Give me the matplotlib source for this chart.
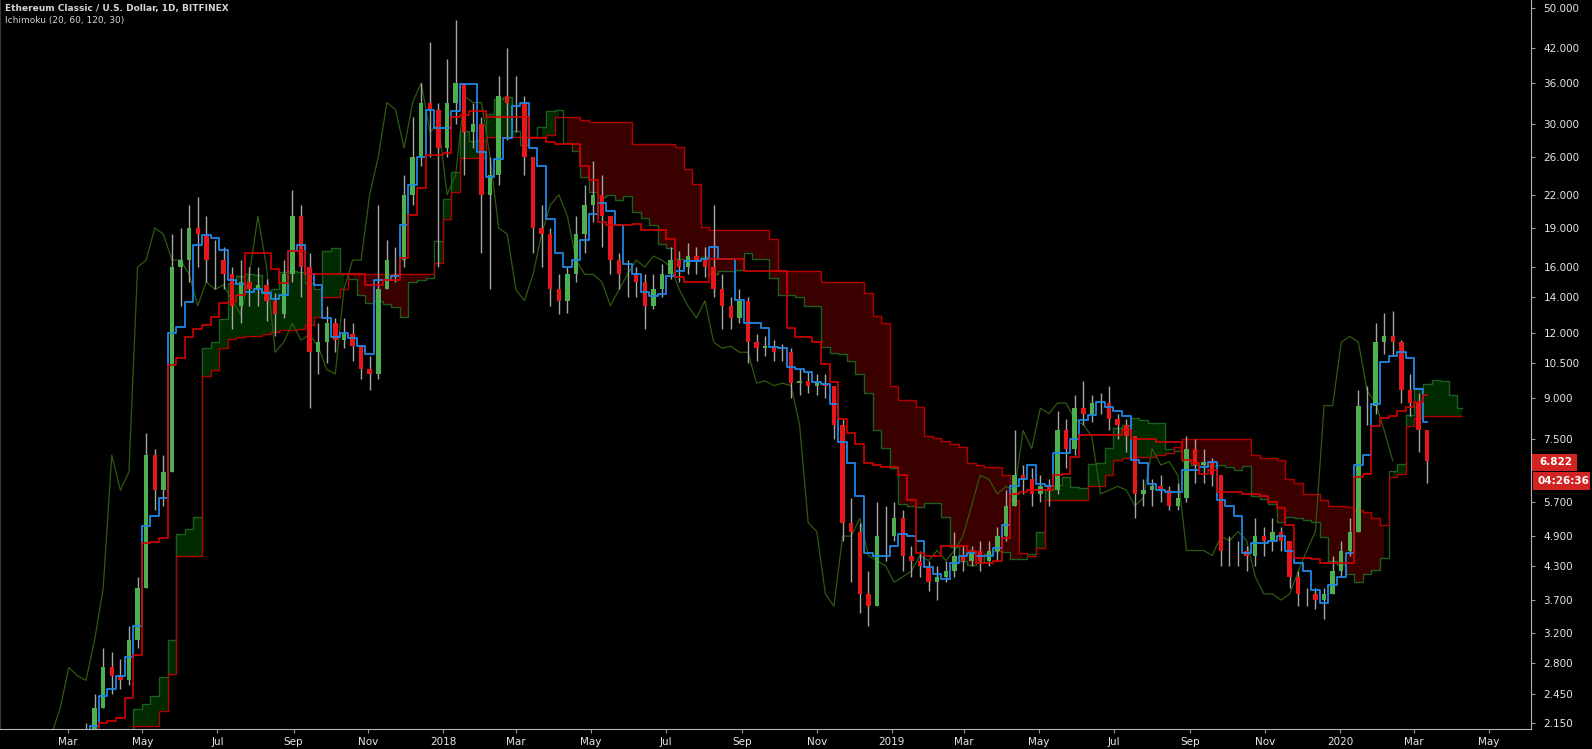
import numpy as np
import pandas as pd
import matplotlib
matplotlib.use('Agg')
import matplotlib.pyplot as plt
import matplotlib.dates as mdates
from matplotlib.patches import Rectangle
from matplotlib.ticker import NullLocator

""" Weekly candles read off the daily ETC/USD chart (Bitfinex) """
weeks = pd.date_range('2017-01-02', periods=167, freq='7D')  # Monday of each week

closes = [1.35, 1.40, 1.45, 1.40, 1.40, 1.45, 1.55, 1.75, 1.90, 1.95,
          2.05, 2.30, 2.75, 2.65, 2.60, 3.10, 3.90, 7.00, 6.00, 6.50,
          16.0, 16.5, 19.0, 18.5, 16.5, 16.5, 15.5, 13.5, 15.0, 14.5,
          14.8, 13.8, 13.0, 15.5, 20.0, 16.0, 11.0, 11.5, 12.5, 11.6,
          11.9, 11.3, 10.2, 10.0, 14.5, 16.5, 16.5, 22.0, 26.0, 33.0,
          32.0, 27.0, 33.0, 36.0, 29.0, 30.0, 22.0, 24.0, 34.0, 33.0,
          33.0, 26.0, 19.0, 18.5, 14.5, 13.8, 15.5, 18.5, 21.0, 22.0,
          20.0, 16.5, 15.5, 15.5, 15.0, 13.5, 14.5, 15.5, 16.5, 16.0,
          16.8, 16.5, 16.0, 14.5, 13.5, 12.8, 13.8, 11.5, 11.2, 11.3,
          11.0, 11.0, 9.6, 9.7, 9.5, 9.6, 9.5, 8.0, 5.2, 5.0,
          3.8, 3.6, 4.9, 4.9, 5.3, 4.5, 4.4, 4.3, 4.0, 4.1,
          4.2, 4.5, 4.4, 4.6, 4.4, 4.6, 4.9, 5.6, 6.4, 6.3,
          5.9, 6.1, 6.0, 7.8, 7.2, 8.6, 8.4, 8.8, 8.8, 8.2,
          8.0, 7.6, 5.9, 6.0, 6.1, 6.0, 5.6, 5.8, 7.2, 6.7,
          6.8, 6.4, 4.6, 4.6, 4.6, 4.5, 4.9, 4.8, 5.0, 4.8,
          4.1, 3.8, 3.8, 3.7, 3.8, 4.2, 4.6, 5.0, 8.7, 8.7,
          11.5, 11.8, 11.5, 9.3, 8.8, 7.8, 6.822]

highs = [1.45, 1.50, 1.55, 1.50, 1.50, 1.55, 1.65, 1.85, 2.00, 2.05,
         2.15, 2.45, 3.00, 2.95, 2.85, 3.30, 4.10, 7.70, 7.20, 7.00,
         18.5, 19.0, 21.0, 21.8, 20.0, 18.0, 17.5, 16.0, 16.5, 16.0,
         16.0, 15.2, 14.3, 16.5, 22.5, 21.0, 17.0, 12.5, 13.5, 12.8,
         12.8, 12.5, 11.3, 10.8, 21.0, 18.0, 17.5, 24.0, 31.0, 36.0,
         43.0, 33.0, 40.0, 47.5, 36.0, 33.0, 31.0, 26.0, 37.0, 42.0,
         37.0, 34.0, 26.0, 21.0, 19.0, 15.5, 16.0, 20.0, 23.0, 25.5,
         24.0, 18.5, 17.0, 16.5, 16.0, 15.5, 15.5, 16.2, 17.5, 17.2,
         17.8, 17.5, 17.5, 21.0, 15.5, 14.0, 14.5, 14.0, 11.9, 11.8,
         11.6, 11.4, 11.2, 10.2, 10.1, 10.0, 10.0, 9.5, 8.2, 5.8,
         5.2, 4.2, 5.7, 5.6, 5.7, 5.5, 4.7, 4.6, 4.4, 4.3,
         4.4, 5.0, 4.7, 4.7, 4.8, 4.8, 5.1, 6.0, 7.8, 6.7,
         6.6, 6.4, 6.3, 8.5, 8.2, 9.1, 9.7, 9.1, 9.2, 9.5,
         8.4, 8.2, 7.0, 6.3, 6.3, 6.4, 6.1, 6.2, 7.6, 7.5,
         7.2, 6.9, 6.4, 4.9, 4.8, 4.7, 5.3, 5.1, 5.3, 5.1,
         4.8, 4.2, 3.9, 3.9, 3.9, 4.5, 4.8, 5.3, 9.3, 9.5,
         12.5, 13.1, 13.2, 11.6, 10.0, 9.2, 7.8]

lows = [1.25, 1.30, 1.35, 1.30, 1.30, 1.35, 1.40, 1.50, 1.70, 1.80,
        1.85, 2.00, 2.30, 2.45, 2.50, 2.55, 3.00, 3.90, 5.50, 5.60,
        6.5, 13.5, 15.0, 16.0, 15.0, 14.5, 14.5, 12.2, 12.5, 13.5,
        13.5, 12.6, 11.8, 12.8, 15.0, 14.0, 8.6, 10.0, 10.5, 11.0,
        11.2, 10.6, 9.8, 9.3, 9.8, 14.5, 15.0, 16.0, 21.0, 25.0,
        26.0, 16.0, 26.0, 30.0, 24.0, 27.0, 17.0, 14.5, 23.0, 28.0,
        29.0, 24.0, 17.0, 16.0, 13.5, 13.0, 13.1, 15.0, 17.0, 19.5,
        17.5, 15.5, 14.5, 14.0, 14.0, 12.2, 13.3, 14.0, 15.2, 15.0,
        15.5, 15.5, 15.3, 14.0, 12.2, 12.2, 12.5, 10.5, 10.6, 10.8,
        10.6, 10.6, 9.0, 9.1, 9.2, 9.1, 9.0, 7.5, 4.8, 4.0,
        3.5, 3.3, 3.7, 4.4, 4.8, 4.2, 4.1, 4.1, 3.85, 3.7,
        4.0, 4.1, 4.2, 4.3, 4.2, 4.3, 4.4, 4.8, 5.7, 5.9,
        5.6, 5.7, 5.6, 5.9, 6.6, 7.0, 8.0, 8.1, 8.4, 7.8,
        7.5, 7.1, 5.3, 5.6, 5.6, 5.7, 5.5, 5.5, 5.7, 6.2,
        6.2, 6.1, 4.3, 4.3, 4.3, 4.2, 4.3, 4.5, 4.6, 4.6,
        3.9, 3.6, 3.6, 3.55, 3.4, 3.8, 4.1, 4.5, 5.0, 8.0,
        8.4, 10.9, 10.8, 8.8, 8.3, 7.1, 6.2]

first_open = 1.30

y_ticks = [50, 42, 36, 30, 26, 22, 19, 16, 14, 12, 10.5, 9, 7.5,
           5.7, 4.9, 4.3, 3.7, 3.2, 2.8, 2.45, 2.15]
x_tick_dates = ['2017-03-01', '2017-05-01', '2017-07-01', '2017-09-01', '2017-11-01',
                '2018-01-01', '2018-03-01', '2018-05-01', '2018-07-01', '2018-09-01',
                '2018-11-01', '2019-01-01', '2019-03-01', '2019-05-01', '2019-07-01',
                '2019-09-01', '2019-11-01', '2020-01-01', '2020-03-01', '2020-05-01']
x_tick_labels = ['Mar', 'May', 'Jul', 'Sep', 'Nov', '2018', 'Mar', 'May', 'Jul', 'Sep',
                 'Nov', '2019', 'Mar', 'May', 'Jul', 'Sep', 'Nov', '2020', 'Mar', 'May']

last_price = 6.822
countdown = '04:26:36'
title = 'Ethereum Classic / U.S. Dollar, 1D, BITFINEX'
subtitle = 'Ichimoku (20, 60, 120, 30)'

""" Build frame and Ichimoku (20, 60, 120, 30 days -> weeks) """
df = pd.DataFrame({'close': closes, 'high': highs, 'low': lows}, index=weeks)
df['open'] = df['close'].shift(1).fillna(first_open)

conv_n, base_n, spanb_n, shift_n = 3, 9, 17, 4

def midpoint(n):
    return (df['high'].rolling(n, min_periods=1).max() + df['low'].rolling(n, min_periods=1).min()) / 2

conv = midpoint(conv_n)
base = midpoint(base_n)
lead_dates = pd.date_range(weeks[0], periods=len(weeks) + shift_n, freq='7D')
span_a = np.r_[np.full(shift_n, np.nan), ((conv + base) / 2).values]
span_b = np.r_[np.full(shift_n, np.nan), midpoint(spanb_n).values]
lag_dates = weeks - pd.Timedelta(weeks=shift_n)

mid_off = pd.Timedelta(days=3)
xc = mdates.date2num(weeks + mid_off)
xl = mdates.date2num(lead_dates + mid_off)
xg = mdates.date2num(lag_dates + mid_off)

""" Figure """
W, H = 1592, 749
fig = plt.figure(figsize=(W / 100, H / 100), dpi=100, facecolor='black')
ax = fig.add_axes([0, 20 / H, 1531 / W, 729 / H], facecolor='black')
ax.set_yscale('log')

# cloud
ax.fill_between(xl, span_a, span_b, where=span_a >= span_b, step='mid', color='#002a00', lw=0, zorder=1)
ax.fill_between(xl, span_a, span_b, where=span_a < span_b, step='mid', color='#3a0000', lw=0, zorder=1)
ax.plot(xl, span_a, color='#1b5e20', lw=1.0, drawstyle='steps-mid', zorder=2)
ax.plot(xl, span_b, color='#b00000', lw=1.0, drawstyle='steps-mid', zorder=2)
ax.plot(xg, df['close'].values, color='#2f5a0e', lw=0.9, zorder=2)  # lagging span

# candles
o = df['open'].values
c = df['close'].values
hi = np.maximum(df['high'].values, np.maximum(o, c))
lo = np.minimum(df['low'].values, np.minimum(o, c))
up = c >= o
ax.vlines(xc, lo, hi, color='#a6a6a6', lw=1.0, zorder=3)
ax.bar(xc, np.abs(c - o), bottom=np.minimum(o, c), width=3.6,
       color=np.where(up, '#4caf50', '#e8161b'), lw=0, zorder=4)

ax.plot(xc, conv.values, color='#1e88e5', lw=1.3, drawstyle='steps-mid', zorder=5)
ax.plot(xc, base.values, color='#d50000', lw=1.2, drawstyle='steps-mid', zorder=5)

ax.set_xlim(mdates.date2num(pd.Timestamp('2017-01-05')), mdates.date2num(pd.Timestamp('2020-06-04 12:00')))
ax.set_ylim(2.098, 51.8)

""" Axes styling """
ax.yaxis.tick_right()
ax.set_yticks(y_ticks, ['%.3f' % t for t in y_ticks])
ax.yaxis.set_minor_locator(NullLocator())
ax.set_xticks(mdates.date2num(pd.to_datetime(x_tick_dates)), x_tick_labels)
ax.tick_params(axis='both', direction='out', length=3, width=0.8, color='#9598a1',
               labelcolor='#e6e6e6', labelsize=7.5)
ax.tick_params(axis='y', pad=6)
ax.tick_params(axis='x', pad=3)
ax.spines['top'].set_visible(False)
ax.spines['left'].set_color('#3a3a3a')
ax.spines['right'].set_color('#b2b5be')
ax.spines['bottom'].set_color('#b2b5be')

# last price and countdown labels on the price scale
fig.canvas.draw()
y_px = ax.transData.transform((xc[-1], last_price))[1]  # pixels from bottom
fig.patches.append(Rectangle((1532 / W, (y_px - 10) / H), 45 / W, 17 / H, transform=fig.transFigure,
                             fc='#d32222', ec='none', zorder=10))
fig.patches.append(Rectangle((1533 / W, (y_px - 29) / H), 57 / W, 18 / H, transform=fig.transFigure,
                             fc='#d32222', ec='none', zorder=10))
fig.text(1539 / W, (y_px - 1.5) / H, '%.3f' % last_price, fontsize=7.5, weight='bold', color='white',
         va='center', ha='left', zorder=11)
fig.text(1537 / W, (y_px - 20) / H, countdown, fontsize=7.5, weight='bold', color='white',
         va='center', ha='left', zorder=11)

fig.text(5 / W, 1 - 9 / H, title, fontsize=6.5, weight='bold', color='#d1d4dc',
         va='center', ha='left', family=['Liberation Sans Narrow', 'DejaVu Sans'])
fig.text(5 / W, 1 - 20 / H, subtitle, fontsize=6.5, color='#d1d4dc',
         va='center', ha='left', family=['Liberation Sans Narrow', 'DejaVu Sans'])

fig.savefig('out.png', dpi=100, facecolor='black')
